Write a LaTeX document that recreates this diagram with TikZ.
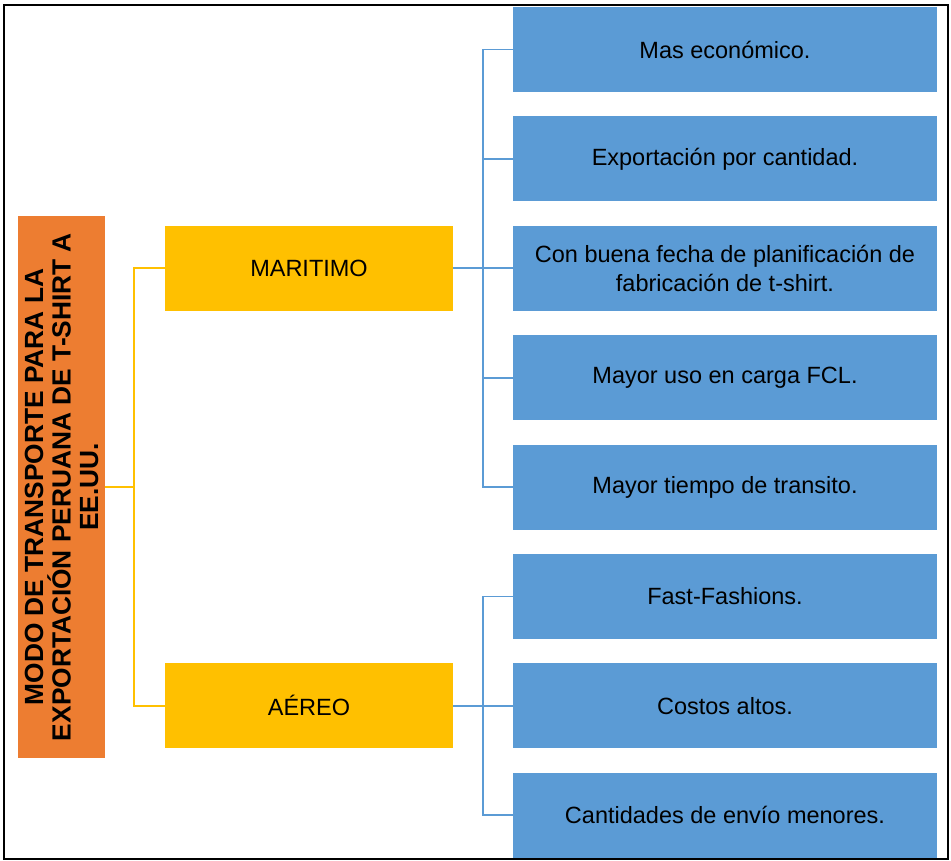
\documentclass[tikz,border=0pt]{standalone}
\usepackage{fontspec}
\setmainfont{Liberation Sans}
\definecolor{cOrange}{HTML}{ED7D31}
\definecolor{cYellow}{HTML}{FFC000}
\definecolor{cBlue}{HTML}{5B9BD5}
\begin{document}
\begin{tikzpicture}[x=1pt,y=-1pt,
  bluebox/.style={fill=cBlue, minimum width=424pt, minimum height=85pt, inner sep=0pt, align=center, font=\fontsize{23.5}{29}\selectfont, text=black},
  yellowbox/.style={fill=cYellow, minimum width=288pt, minimum height=85pt, inner sep=0pt, align=center, font=\fontsize{23.5}{29}\selectfont, text=black},
  orangebox/.style={fill=cOrange, minimum width=541pt, minimum height=87pt, inner sep=0pt, align=center, font=\fontsize{26.3}{27.5}\selectfont\bfseries, text=black},
  yline/.style={draw=cYellow, line width=1.8pt},
  bline/.style={draw=cBlue, line width=1.8pt}]
\fill[white] (0,0) rectangle (951,861);
\useasboundingbox (0,0) rectangle (951,861);
\draw[line width=2.5pt] (4,5) rectangle (948,859);

\node[orangebox, rotate=90] (tema) at (61.5,487) {MODO DE TRANSPORTE PARA LA\\EXPORTACIÓN PERUANA DE T-SHIRT A\\EE.UU.};

\node[yellowbox] (mar) at (309,268.3) {MARITIMO};
\node[yellowbox] (aer) at (309,705.9) {AÉREO};

\node[bluebox] (m1) at (725,49.5) {Mas económico.};
\node[bluebox] (m2) at (725,158.9) {Exportación por cantidad.};
\node[bluebox] (m3) at (725,268.3) {Con buena fecha de planificación de\\fabricación de t-shirt.};
\node[bluebox] (m4) at (725,377.7) {Mayor uso en carga FCL.};
\node[bluebox] (m5) at (725,487.1) {Mayor tiempo de transito.};
\node[bluebox] (a1) at (725,596.5) {Fast-Fashions.};
\node[bluebox] (a2) at (725,705.9) {Costos altos.};
\node[bluebox] (a3) at (725,815.3) {Cantidades de envío menores.};

\coordinate (yj) at (134,487);
\draw[yline] (tema.south) -- (yj);
\draw[yline] (mar.west) -| (yj) |- (aer.west);

\coordinate (bj1) at (483,268.3);
\draw[bline] (mar.east) -- (m3.west);
\foreach \n in {m1,m2,m4,m5} { \draw[bline] (bj1) |- (\n.west); }

\coordinate (bj2) at (483,705.9);
\draw[bline] (aer.east) -- (a2.west);
\foreach \n in {a1,a3} { \draw[bline] (bj2) |- (\n.west); }
\end{tikzpicture}
\end{document}
